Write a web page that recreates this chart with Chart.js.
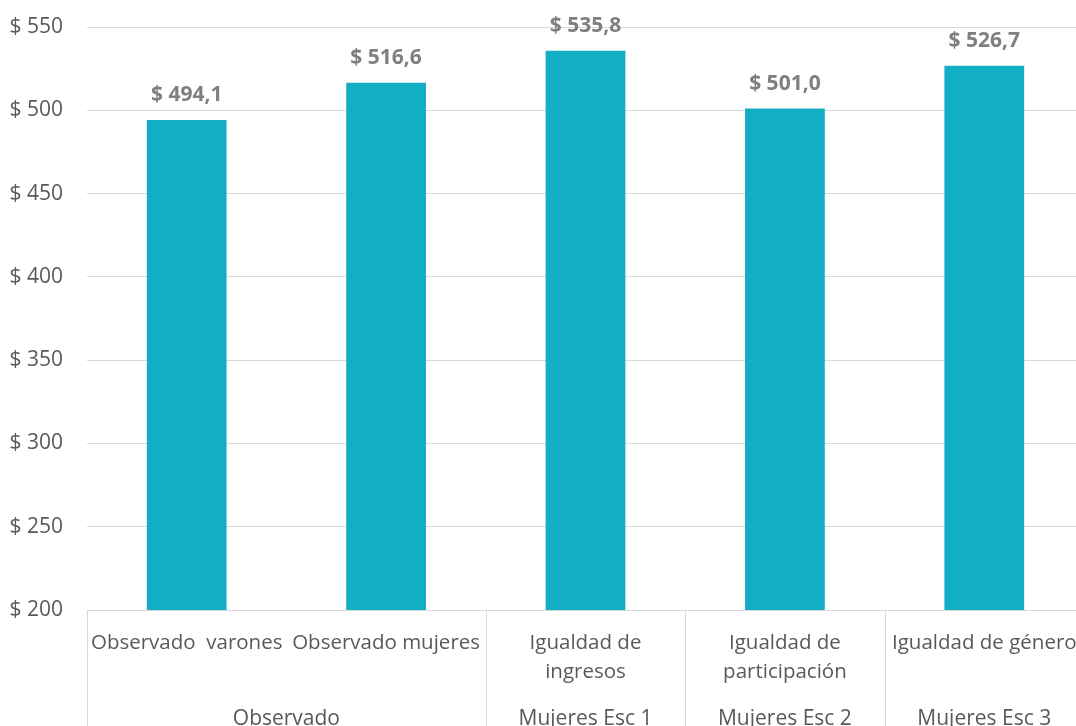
<!DOCTYPE html>
<html><head><meta charset="utf-8">
<script src="https://cdn.jsdelivr.net/npm/chart.js@4/dist/chart.umd.min.js"></script>
<style>
html,body{margin:0;padding:0;background:#fff;overflow:hidden;}
#wrap{position:absolute;left:0;top:0;width:1086px;height:760px;}
</style></head>
<body>
<div id="wrap"><canvas id="c" width="1086" height="760"></canvas></div>
<script>
const categories = [["Observado  varones"], ["Observado mujeres"], ["Igualdad de", "ingresos"], ["Igualdad de", "participación"], ["Igualdad de género"]];
const groups = ["Observado", "Observado", "Mujeres Esc 1", "Mujeres Esc 2", "Mujeres Esc 3"];
const values = [494.1, 516.6, 535.8, 501.0, 526.7];
const yTicks = [200, 250, 300, 350, 400, 450, 500, 550];

const FONT = "'Open Sans', sans-serif";
const fmt = v => "$ " + v.toFixed(1).replace(".", ",");

const labelsPlugin = {
  id: "labelsPlugin",
  afterDraw(chart) {
    const ctx = chart.ctx;
    const x = chart.scales.x;
    const area = chart.chartArea;
    const meta = chart.getDatasetMeta(0);
    ctx.save();
    ctx.font = "bold 21px " + FONT;
    ctx.fillStyle = "#7f7f7f";
    ctx.textAlign = "center";
    ctx.textBaseline = "middle";
    meta.data.forEach((bar, i) => {
      ctx.fillText(fmt(values[i]), bar.x, bar.y - 25);
    });
    ctx.font = "20.5px " + FONT;
    ctx.fillStyle = "#595959";
    const step = x.getPixelForValue(1) - x.getPixelForValue(0);
    categories.forEach((lines, i) => {
      const cx = x.getPixelForValue(i);
      lines.forEach((t, j) => ctx.fillText(t, cx, area.bottom + 33 + j * 29));
    });
    ctx.font = "21px " + FONT;
    let start = 0;
    ctx.strokeStyle = "#d9d9d9";
    ctx.lineWidth = 1;
    const drawSep = (px) => {
      ctx.beginPath();
      ctx.moveTo(Math.round(px) + 0.5, area.bottom);
      ctx.lineTo(Math.round(px) + 0.5, chart.height);
      ctx.stroke();
    };
    for (let i = 1; i <= groups.length; i++) {
      if (i === groups.length || groups[i] !== groups[start]) {
        const left = x.getPixelForValue(start) - step / 2;
        const right = x.getPixelForValue(i - 1) + step / 2;
        ctx.fillText(groups[start], (left + right) / 2, area.bottom + 109);
        drawSep(left);
        if (i === groups.length) drawSep(right);
        start = i;
      }
    }
    ctx.restore();
  }
};

new Chart(document.getElementById("c"), {
  type: "bar",
  data: {
    labels: categories.map(c => c.join(" ")),
    datasets: [{
      data: values,
      backgroundColor: "#12aec3",
      barPercentage: 0.4,
      categoryPercentage: 1.0
    }]
  },
  options: {
    responsive: false,
    animation: false,
    layout: { padding: { top: 27, right: 2, bottom: 150, left: 0 } },
    plugins: { legend: { display: false }, tooltip: { enabled: false } },
    scales: {
      x: {
        grid: { display: false, drawTicks: false },
        border: { display: true, color: "#d9d9d9" },
        ticks: { display: false }
      },
      y: {
        min: 200, max: 550,
        afterBuildTicks: s => { s.ticks = yTicks.map(v => ({ value: v })); },
        afterFit: s => { s.width = 87; s.paddingTop = 0; s.paddingBottom = 0; },
        grid: { color: "#d9d9d9", drawTicks: false },
        border: { display: false },
        ticks: {
          padding: 24,
          color: "#595959",
          font: { family: FONT, size: 21 },
          callback: v => "$ " + v
        }
      }
    }
  },
  plugins: [labelsPlugin]
});
</script>
</body></html>
